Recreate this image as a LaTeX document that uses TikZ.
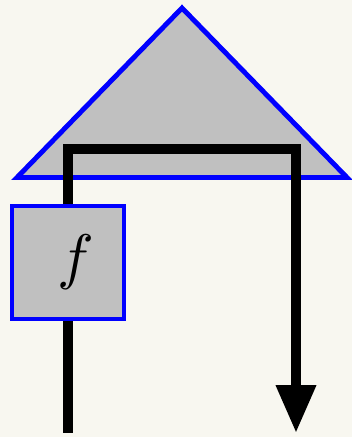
\documentclass[tikz,border=0pt]{standalone}
\usepackage{graphicx}
\usetikzlibrary{arrows.meta}
\definecolor{paper}{RGB}{248,247,240}
\definecolor{boxgray}{RGB}{192,192,192}
\tikzset{
  blueshape/.style={draw=blue, line width=2.8pt, fill=boxgray, line join=miter},
  wire/.style={line width=5.7pt, black, line join=miter},
}
\begin{document}
\begin{tikzpicture}[x=0.02cm,y=-0.02cm]
        \fill[paper] (0,0) rectangle (352,437);
        \useasboundingbox (0,0) rectangle (352,437);
        \draw[blueshape] (17,177.5) -- (182,8) -- (347,177.5) -- cycle;
        \node[blueshape, inner sep=0pt, minimum width=2.24cm, minimum height=2.26cm] (f) at (68,262.5) {\hspace*{0.3cm}\scalebox{3.5}{$f$}};
        \coordinate (tl) at (68,149);
        \coordinate (tr) at (296,149);
        \coordinate (out) at (296,433);
        \coordinate (in) at (68,433);
        \draw[wire, -{Triangle[width=0.76cm,length=0.96cm]}] (f.north) -- (tl) -- (tr) -- (out);
        \draw[wire] (f.south) -- (in);
    \end{tikzpicture}
\end{document}
